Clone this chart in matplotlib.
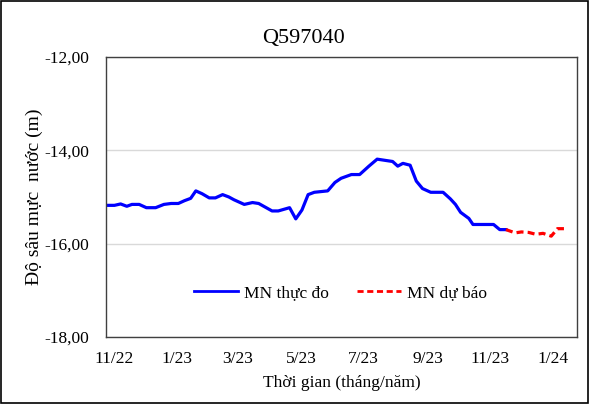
import numpy as np
import matplotlib
matplotlib.use("Agg")
import matplotlib.pyplot as plt
import matplotlib.dates as mdates
from matplotlib.ticker import FuncFormatter
from datetime import datetime

# measured water depth (MN thuc do)
obs_dates = ["2022-10-25", "2022-11-01", "2022-11-07", "2022-11-13", "2022-11-18",
             "2022-11-25", "2022-12-02", "2022-12-11", "2022-12-19", "2022-12-26",
             "2023-01-02", "2023-01-08", "2023-01-14", "2023-01-19", "2023-01-25",
             "2023-02-01", "2023-02-07", "2023-02-14", "2023-02-20", "2023-02-25",
             "2023-03-07", "2023-03-15", "2023-03-21", "2023-04-03", "2023-04-09",
             "2023-04-20", "2023-04-26", "2023-05-02", "2023-05-08", "2023-05-14",
             "2023-05-27", "2023-06-03", "2023-06-09", "2023-06-19", "2023-06-27",
             "2023-07-06", "2023-07-14", "2023-07-29", "2023-08-03", "2023-08-08",
             "2023-08-15", "2023-08-21", "2023-08-27", "2023-09-04", "2023-09-16",
             "2023-09-23", "2023-09-28", "2023-10-03", "2023-10-11", "2023-10-15",
             "2023-11-04", "2023-11-10", "2023-11-16"]
obs_vals = [-15.18, -15.18, -15.15, -15.20, -15.16,
            -15.16, -15.23, -15.23, -15.16, -15.14,
            -15.14, -15.08, -15.03, -14.87, -14.93,
            -15.02, -15.02, -14.95, -15.00, -15.06,
            -15.16, -15.12, -15.14, -15.30, -15.30,
            -15.23, -15.47, -15.28, -14.95, -14.90,
            -14.87, -14.69, -14.60, -14.52, -14.52,
            -14.34, -14.19, -14.24, -14.34, -14.28,
            -14.32, -14.66, -14.82, -14.90, -14.90,
            -15.04, -15.16, -15.33, -15.46, -15.59,
            -15.59, -15.70, -15.70]

# forecast (MN du bao)
fc_dates = ["2023-11-16", "2023-11-25", "2023-12-01", "2023-12-08", "2023-12-15",
            "2023-12-22", "2023-12-30", "2024-01-05", "2024-01-14"]
fc_vals = [-15.70, -15.77, -15.75, -15.76, -15.80,
           -15.78, -15.84, -15.68, -15.68]

title = "Q597040"
y_ticks = [-18, -16, -14, -12]


def to_dt(lst):
    return [datetime.strptime(s, "%Y-%m-%d") for s in lst]


plt.rcParams['font.family'] = ['Liberation Serif', 'DejaVu Serif']

fig = plt.figure(figsize=(5.9, 4.04), dpi=100)
ax = fig.add_axes([0.18, 0.166, 0.798, 0.693])

ax.plot(to_dt(obs_dates), obs_vals, color="#0000ff", lw=2.3, label="MN thực đo",
        solid_joinstyle="round")
ax.plot(to_dt(fc_dates), fc_vals, color="#ff0000", lw=2.3, ls=(0, (2.2, 1.3)),
        label="MN dự báo")

ax.set_ylim(-18, -12)
ax.set_yticks(y_ticks)
ax.yaxis.set_major_formatter(FuncFormatter(lambda v, p: f"{v:.2f}".replace(".", ",")))
ax.set_xlim(datetime(2022, 10, 24), datetime(2024, 1, 24))
ax.xaxis.set_major_locator(mdates.MonthLocator(bymonth=[1, 3, 5, 7, 9, 11]))
ax.xaxis.set_major_formatter(FuncFormatter(
    lambda v, p: "%d/%s" % (mdates.num2date(v).month, mdates.num2date(v).strftime("%y"))))

ax.tick_params(length=0, labelsize=12.5, pad=10)
ax.tick_params(axis="y", pad=12)
ax.grid(axis="y", color="#d9d9d9", lw=1)
ax.set_axisbelow(True)
for s in ax.spines.values():
    s.set_color("#404040")
    s.set_linewidth(1)

fig.text(0.515, 0.905, title, fontsize=16, ha="center", va="center")
ax.set_xlabel("Thời gian (tháng/năm)", fontsize=12.5, labelpad=6)
ax.set_ylabel("Độ sâu mực  nước (m)", fontsize=14, labelpad=1)

leg = ax.legend(loc="center", bbox_to_anchor=(0.498, 0.157), ncol=2, frameon=False,
                fontsize=12.5, handlelength=2.55, columnspacing=1.6, handletextpad=0.35)
for h in leg.get_lines():
    h.set_linewidth(2.0)

fig.patches.append(plt.Rectangle((0.002, 0.003), 0.994, 0.994, transform=fig.transFigure,
                                 fill=False, ec="black", lw=1.2))

fig.savefig("out.png", dpi=100)
